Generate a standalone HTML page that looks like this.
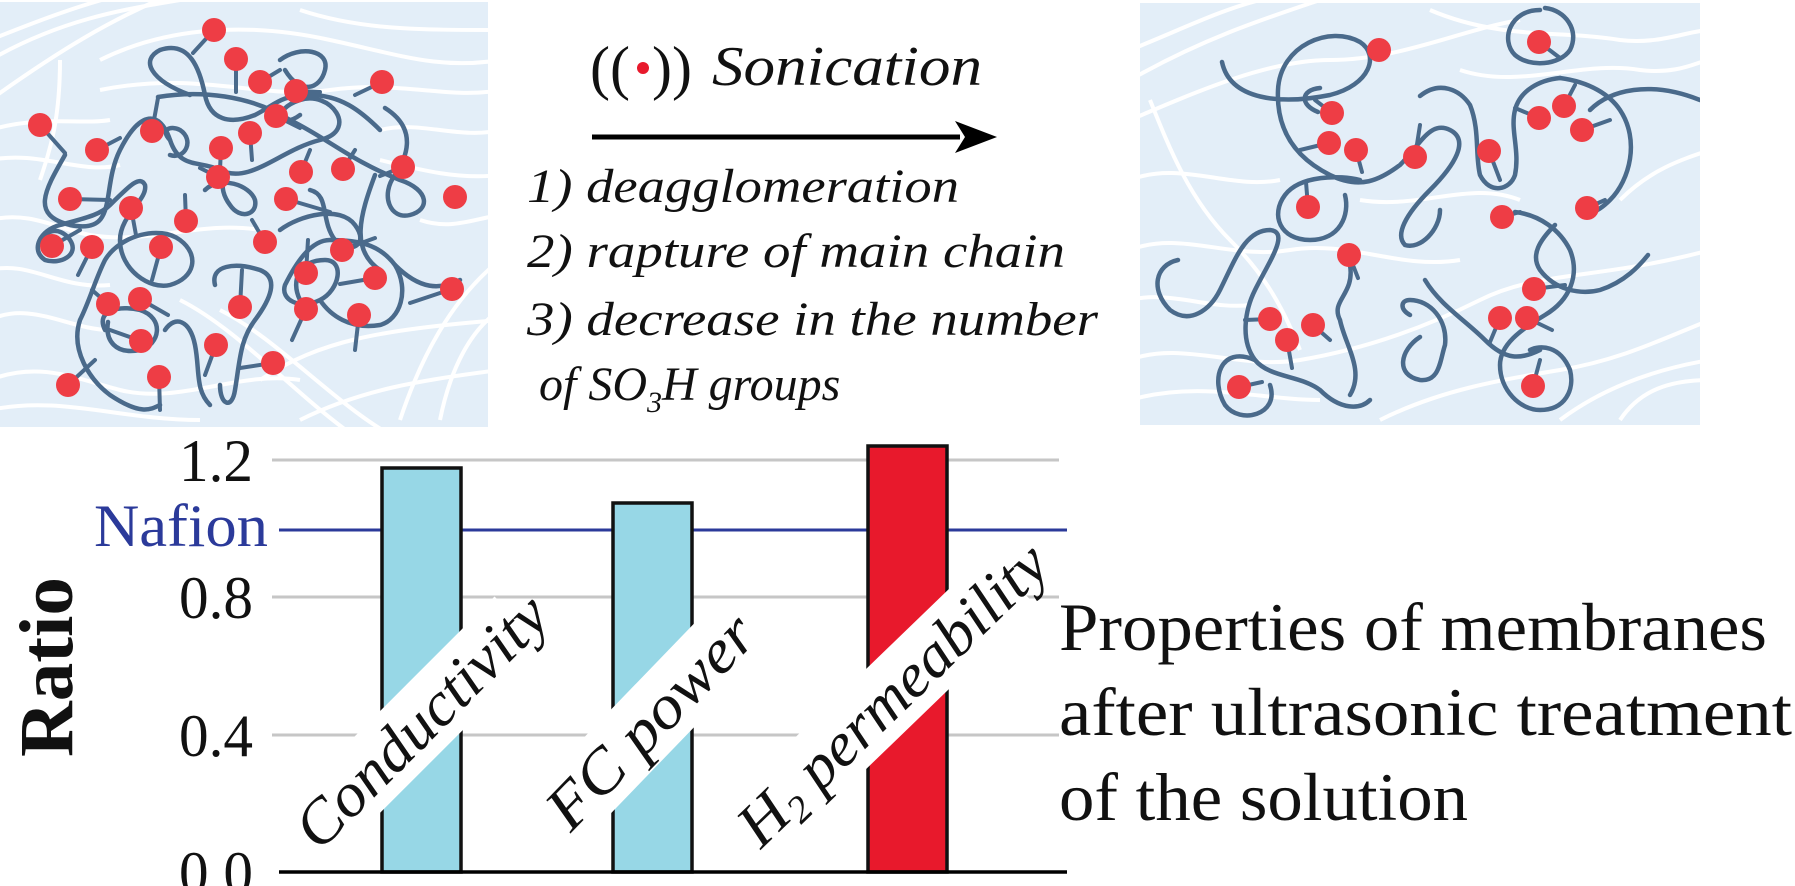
<!DOCTYPE html>
<html><head><meta charset="utf-8"><style>
html,body{margin:0;padding:0;background:#fff;}
svg{display:block;}
</style></head><body>
<svg width="1795" height="886" viewBox="0 0 1795 886" xmlns="http://www.w3.org/2000/svg">
<defs>
<clipPath id="cl"><rect x="0" y="2" width="488" height="425"/></clipPath>
<clipPath id="cr"><rect x="1140" y="3" width="560" height="422"/></clipPath>
</defs>

<!-- LEFT PANEL -->
<rect x="0" y="2" width="488" height="425" fill="#e3eef8"/>
<g clip-path="url(#cl)" fill="none" stroke="#fff" stroke-width="4">
<path d="M-10,60 C60,20 120,10 180,0"/>
<path d="M-10,100 C60,50 110,20 170,-5"/>
<path d="M-10,40 C40,20 80,5 120,-5"/>
<path d="M100,60 C160,30 240,20 330,40 C400,55 440,70 500,60"/>
<path d="M300,10 C360,30 420,30 500,30"/>
<path d="M100,90 C200,70 260,100 330,90 C400,80 450,100 500,90"/>
<path d="M-10,160 C40,150 80,175 120,165"/>
<path d="M-10,220 C30,210 60,230 90,235 C150,245 200,220 260,230"/>
<path d="M-10,270 C30,260 60,290 110,285"/>
<path d="M-10,320 C30,300 70,330 110,330"/>
<path d="M-10,380 C40,360 80,380 120,390 C180,405 240,370 300,380"/>
<path d="M-10,410 C60,395 120,420 200,420"/>
<path d="M260,380 C320,340 380,330 500,320"/>
<path d="M300,420 C360,390 420,380 500,370"/>
<path d="M400,420 C420,360 450,300 500,260"/>
<path d="M440,420 C450,370 470,330 500,310"/>
<path d="M180,300 C240,330 300,400 360,440"/>
<path d="M220,310 C280,340 340,410 400,440"/>
<path d="M380,160 C420,170 460,180 500,175"/>
<path d="M60,60 C60,120 50,150 40,180"/>
<path d="M-10,130 C40,115 80,125 110,120"/>
<path d="M380,130 C420,120 460,140 500,130"/>
<path d="M420,220 C450,230 470,220 500,215"/>
</g>
<g clip-path="url(#cl)" fill="none" stroke="#4a6a8b" stroke-width="4.5" stroke-linecap="round">
<path d="M65,155 C45,190 30,215 70,225 C120,235 100,190 120,150 C140,110 160,110 170,140 C180,170 200,160 220,170 C250,185 280,150 320,140 C360,130 330,90 300,100 C270,110 280,130 300,115"/>
<path d="M190,95 C150,80 140,60 160,50 C190,40 200,70 205,95 C210,120 230,125 255,115 C275,105 280,95 310,95 C340,95 360,110 380,130"/>
<path d="M280,60 C300,45 330,50 325,70 C320,90 300,95 285,70"/>
<path d="M158,97 C200,90 250,95 290,120 C330,140 350,160 400,180 C430,190 430,210 410,215 C390,220 380,195 395,175 C405,160 420,130 385,108"/>
<path d="M170,140 C160,130 170,125 180,130 C195,140 185,160 170,155"/>
<path d="M205,190 C220,175 250,185 255,200 C258,215 240,220 230,205 C215,185 230,175 215,170"/>
<path d="M45,245 C40,230 60,225 70,240 C80,255 60,265 45,260 C30,250 40,230 60,225 C85,218 100,215 110,205 C130,185 140,175 145,185 C148,200 120,215 120,240 C120,270 150,290 170,285 C195,278 200,255 180,240 C160,225 120,235 105,260 C95,280 90,300 80,320 C70,350 90,380 110,395 C140,415 150,410 160,405"/>
<path d="M105,330 C95,310 120,305 140,310 C165,318 160,345 140,350 C115,355 105,340 108,322"/>
<path d="M165,330 C175,315 190,320 195,345 C200,370 195,390 210,405"/>
<path d="M215,285 C210,265 235,262 260,270 C280,278 270,300 255,320 C240,340 240,360 235,390 C232,410 220,405 220,385"/>
<path d="M300,300 C290,280 300,260 325,260 C345,260 340,290 320,300 C300,310 280,300 285,285 C295,265 310,240 330,240 C360,240 380,245 395,265 C410,290 400,320 380,325 C350,330 330,315 320,300"/>
<path d="M280,230 C300,215 340,205 355,225 C370,245 350,255 335,240 C320,220 330,195 310,190"/>
<path d="M395,265 C420,290 440,290 460,280"/>
<path d="M375,175 C360,215 350,250 380,270"/>
</g>
<g stroke="#4a6a8b" stroke-width="4" stroke-linecap="round">
<line x1="214" y1="30" x2="193" y2="53"/><line x1="236" y1="59" x2="236" y2="92"/>
<line x1="260" y1="82" x2="280" y2="70"/><line x1="296" y1="91" x2="320" y2="92"/>
<line x1="382" y1="82" x2="355" y2="95"/><line x1="40" y1="125" x2="65" y2="153"/>
<line x1="152" y1="131" x2="158" y2="98"/><line x1="276" y1="116" x2="300" y2="128"/>
<line x1="250" y1="133" x2="252" y2="160"/><line x1="97" y1="150" x2="120" y2="138"/>
<line x1="221" y1="148" x2="220" y2="170"/><line x1="218" y1="177" x2="200" y2="168"/>
<line x1="301" y1="172" x2="310" y2="150"/><line x1="343" y1="169" x2="355" y2="150"/>
<line x1="403" y1="167" x2="380" y2="176"/><line x1="70" y1="199" x2="110" y2="200"/>
<line x1="131" y1="208" x2="136" y2="235"/><line x1="186" y1="221" x2="185" y2="195"/>
<line x1="286" y1="199" x2="330" y2="212"/><line x1="52" y1="246" x2="80" y2="230"/>
<line x1="92" y1="247" x2="78" y2="275"/><line x1="161" y1="247" x2="152" y2="280"/>
<line x1="265" y1="242" x2="252" y2="220"/><line x1="342" y1="250" x2="375" y2="238"/>
<line x1="306" y1="273" x2="308" y2="240"/><line x1="375" y1="278" x2="340" y2="284"/>
<line x1="240" y1="307" x2="242" y2="270"/><line x1="306" y1="309" x2="292" y2="340"/>
<line x1="359" y1="315" x2="355" y2="350"/><line x1="108" y1="304" x2="92" y2="290"/>
<line x1="140" y1="299" x2="168" y2="315"/><line x1="141" y1="341" x2="110" y2="330"/>
<line x1="216" y1="345" x2="205" y2="375"/><line x1="273" y1="363" x2="240" y2="368"/>
<line x1="452" y1="289" x2="410" y2="303"/><line x1="68" y1="385" x2="95" y2="360"/>
<line x1="159" y1="377" x2="160" y2="410"/>
</g>
<g fill="#ee3d45">
<circle cx="214" cy="30" r="12"/><circle cx="236" cy="59" r="12"/><circle cx="260" cy="82" r="12"/>
<circle cx="296" cy="91" r="12"/><circle cx="382" cy="82" r="12"/><circle cx="40" cy="125" r="12"/>
<circle cx="152" cy="131" r="12"/><circle cx="276" cy="116" r="12"/><circle cx="250" cy="133" r="12"/>
<circle cx="97" cy="150" r="12"/><circle cx="221" cy="148" r="12"/><circle cx="218" cy="177" r="12"/>
<circle cx="301" cy="172" r="12"/><circle cx="343" cy="169" r="12"/><circle cx="403" cy="167" r="12"/>
<circle cx="70" cy="199" r="12"/><circle cx="131" cy="208" r="12"/><circle cx="186" cy="221" r="12"/>
<circle cx="286" cy="199" r="12"/><circle cx="52" cy="246" r="12"/><circle cx="92" cy="247" r="12"/>
<circle cx="161" cy="247" r="12"/><circle cx="265" cy="242" r="12"/><circle cx="342" cy="250" r="12"/>
<circle cx="306" cy="273" r="12"/><circle cx="375" cy="278" r="12"/><circle cx="240" cy="307" r="12"/>
<circle cx="306" cy="309" r="12"/><circle cx="359" cy="315" r="12"/><circle cx="108" cy="304" r="12"/>
<circle cx="140" cy="299" r="12"/><circle cx="141" cy="341" r="12"/><circle cx="216" cy="345" r="12"/>
<circle cx="273" cy="363" r="12"/><circle cx="452" cy="289" r="12"/><circle cx="68" cy="385" r="12"/>
<circle cx="159" cy="377" r="12"/><circle cx="455" cy="197" r="12"/>
</g>

<!-- RIGHT PANEL -->
<rect x="1140" y="3" width="560" height="422" fill="#e3eef8"/>
<g clip-path="url(#cr)" fill="none" stroke="#fff" stroke-width="4">
<path d="M1130,80 C1200,40 1260,20 1320,0"/>
<path d="M1130,50 C1180,30 1220,10 1260,0"/>
<path d="M1130,120 C1200,90 1270,60 1330,60 C1400,60 1460,30 1520,20"/>
<path d="M1430,10 C1500,40 1560,30 1620,40 C1660,45 1690,30 1710,30"/>
<path d="M1460,70 C1520,90 1580,60 1640,70 C1680,75 1700,60 1710,60"/>
<path d="M1130,180 C1180,160 1230,190 1280,180"/>
<path d="M1150,100 C1170,150 1190,200 1230,240 C1260,270 1280,300 1300,350"/>
<path d="M1130,250 C1180,230 1230,260 1290,250 C1350,240 1400,270 1460,260"/>
<path d="M1130,300 C1170,290 1210,310 1250,305"/>
<path d="M1130,360 C1180,340 1240,370 1300,360 C1360,350 1420,330 1480,300 C1540,270 1600,280 1710,250"/>
<path d="M1130,400 C1200,380 1260,400 1320,400"/>
<path d="M1380,420 C1440,390 1500,380 1560,370 C1620,360 1660,340 1710,320"/>
<path d="M1560,420 C1600,390 1650,370 1710,360"/>
<path d="M1620,420 C1640,390 1670,380 1710,380"/>
<path d="M1620,200 C1650,170 1680,160 1710,150"/>
<path d="M1360,200 C1420,210 1470,180 1520,200"/>
</g>
<g clip-path="url(#cr)" fill="none" stroke="#4a6a8b" stroke-width="4.5" stroke-linecap="round">
<path d="M1222,62 C1230,100 1280,105 1330,95 C1370,85 1380,55 1360,42 C1330,25 1280,45 1278,90 C1276,135 1300,160 1330,175 C1360,190 1380,180 1400,165 C1420,145 1430,120 1450,130 C1470,140 1455,165 1430,190 C1405,215 1395,235 1405,245 C1420,250 1440,230 1440,210"/>
<path d="M1318,112 C1300,105 1300,90 1320,88"/>
<path d="M1360,180 C1340,175 1300,175 1285,195 C1270,215 1280,240 1310,240 C1340,240 1350,215 1345,195"/>
<path d="M1178,260 C1155,265 1150,290 1170,310 C1190,325 1210,310 1220,290 C1235,260 1245,230 1270,230 C1290,232 1270,260 1255,290 C1245,310 1240,340 1255,360 C1270,378 1300,375 1320,390 C1340,410 1360,410 1370,400"/>
<path d="M1255,360 C1220,345 1210,380 1225,405 C1240,425 1280,415 1270,385"/>
<path d="M1350,265 C1355,295 1330,300 1340,320 C1345,345 1365,370 1350,395"/>
<path d="M1420,337 C1400,350 1395,375 1420,380 C1440,382 1440,360 1445,345 C1448,320 1430,300 1410,300 C1400,300 1400,310 1410,315"/>
<path d="M1420,96 C1440,80 1460,90 1470,105 C1480,130 1475,155 1480,175 C1490,195 1510,190 1515,175 C1520,150 1510,130 1515,110 C1520,90 1540,80 1560,78"/>
<path d="M1540,10 C1510,10 1500,40 1515,55 C1530,68 1560,65 1570,50 C1580,30 1565,10 1545,8"/>
<path d="M1560,78 C1590,82 1610,95 1620,110 C1640,140 1630,180 1610,200 C1595,215 1585,215 1580,210"/>
<path d="M1590,110 C1610,90 1650,80 1700,100"/>
<path d="M1515,212 C1540,215 1560,230 1570,250 C1580,275 1570,300 1545,315 C1520,330 1500,345 1500,365 C1500,390 1520,410 1540,410 C1565,410 1575,390 1570,370 C1560,345 1540,345 1530,350"/>
<path d="M1555,225 C1540,240 1530,255 1540,270 C1555,290 1580,295 1600,290 C1625,282 1640,265 1648,255"/>
<path d="M1425,280 C1440,305 1465,320 1485,340 C1505,360 1520,360 1540,350"/>
</g>
<g stroke="#4a6a8b" stroke-width="4" stroke-linecap="round">
<line x1="1539" y1="42" x2="1560" y2="58"/><line x1="1332" y1="113" x2="1315" y2="100"/>
<line x1="1329" y1="143" x2="1300" y2="150"/><line x1="1356" y1="150" x2="1362" y2="172"/>
<line x1="1415" y1="157" x2="1420" y2="125"/><line x1="1539" y1="118" x2="1515" y2="108"/>
<line x1="1564" y1="106" x2="1575" y2="85"/><line x1="1582" y1="130" x2="1610" y2="120"/>
<line x1="1489" y1="151" x2="1500" y2="180"/><line x1="1308" y1="207" x2="1306" y2="182"/>
<line x1="1502" y1="217" x2="1520" y2="212"/><line x1="1587" y1="208" x2="1605" y2="200"/>
<line x1="1349" y1="255" x2="1358" y2="278"/><line x1="1534" y1="289" x2="1565" y2="285"/>
<line x1="1270" y1="319" x2="1245" y2="320"/><line x1="1313" y1="325" x2="1330" y2="340"/>
<line x1="1287" y1="340" x2="1292" y2="368"/><line x1="1500" y1="318" x2="1490" y2="342"/>
<line x1="1527" y1="318" x2="1552" y2="330"/><line x1="1239" y1="387" x2="1262" y2="382"/>
<line x1="1533" y1="386" x2="1540" y2="360"/>
</g>
<g fill="#ee3d45">
<circle cx="1379" cy="50" r="12"/><circle cx="1539" cy="42" r="12"/><circle cx="1332" cy="113" r="12"/>
<circle cx="1329" cy="143" r="12"/><circle cx="1356" cy="150" r="12"/><circle cx="1415" cy="157" r="12"/>
<circle cx="1539" cy="118" r="12"/><circle cx="1564" cy="106" r="12"/><circle cx="1582" cy="130" r="12"/>
<circle cx="1489" cy="151" r="12"/><circle cx="1308" cy="207" r="12"/><circle cx="1502" cy="217" r="12"/>
<circle cx="1587" cy="208" r="12"/><circle cx="1349" cy="255" r="12"/><circle cx="1534" cy="289" r="12"/>
<circle cx="1270" cy="319" r="12"/><circle cx="1313" cy="325" r="12"/><circle cx="1287" cy="340" r="12"/>
<circle cx="1500" cy="318" r="12"/><circle cx="1527" cy="318" r="12"/><circle cx="1239" cy="387" r="12"/>
<circle cx="1533" cy="386" r="12"/>
</g>

<!-- MIDDLE TEXT -->
<g font-family="'Liberation Serif', serif" fill="#111">
<text x="590" y="88" font-size="60">((</text>
<text x="652" y="88" font-size="60">))</text>
<circle cx="643" cy="68" r="6" fill="#e8192c"/>
<text x="712" y="85" font-size="56" font-style="italic" textLength="270" lengthAdjust="spacingAndGlyphs">Sonication</text>
<line x1="592" y1="137" x2="960" y2="137" stroke="#000" stroke-width="5"/>
<polygon points="955,121 997,137 955,153 965,137" fill="#000"/>
<text x="527" y="202" font-size="48" font-style="italic" textLength="432" lengthAdjust="spacingAndGlyphs">1) deagglomeration</text>
<text x="527" y="267" font-size="48" font-style="italic" textLength="538" lengthAdjust="spacingAndGlyphs">2) rapture of main chain</text>
<text x="527" y="335" font-size="48" font-style="italic" textLength="571" lengthAdjust="spacingAndGlyphs">3) decrease in the number</text>
<text x="539" y="400" font-size="48" font-style="italic">of SO<tspan font-size="30" dy="12">3</tspan><tspan dy="-12">H groups</tspan></text>
</g>

<!-- CHART -->
<g>
<line x1="272" y1="460" x2="1059" y2="460" stroke="#c6c6c6" stroke-width="3"/>
<line x1="272" y1="597" x2="1059" y2="597" stroke="#c6c6c6" stroke-width="3"/>
<line x1="272" y1="735" x2="1059" y2="735" stroke="#c6c6c6" stroke-width="3"/>
<line x1="279" y1="530" x2="1067" y2="530" stroke="#2b3a9a" stroke-width="3"/>
<rect x="382" y="468" width="79" height="404" fill="#97d7e6" stroke="#111" stroke-width="3.5"/>
<rect x="613" y="503" width="79" height="369" fill="#97d7e6" stroke="#111" stroke-width="3.5"/>
<rect x="868" y="446" width="79" height="426" fill="#e8192c" stroke="#111" stroke-width="3.5"/>
</g>

<g font-family="'Liberation Serif', serif" font-style="italic" font-size="62" fill="#111" text-anchor="middle">
<g transform="translate(421,721) rotate(-45)">
<rect x="-140" y="-36" width="280" height="72" fill="#fff"/>
<text x="0" y="21" textLength="330" lengthAdjust="spacingAndGlyphs">Conductivity</text>
</g>
<g transform="translate(650,721) rotate(-46)">
<rect x="-115" y="-36" width="230" height="72" fill="#fff"/>
<text x="0" y="21" textLength="272" lengthAdjust="spacingAndGlyphs">FC power</text>
</g>
<g transform="translate(892,694) rotate(-44)">
<rect x="-165" y="-36" width="330" height="72" fill="#fff"/>
<text x="0" y="21" textLength="405" lengthAdjust="spacingAndGlyphs">H<tspan font-size="38" dy="10">2</tspan><tspan dy="-10"> permeability</tspan></text>
</g>
</g>

<line x1="279" y1="872" x2="1067" y2="872" stroke="#000" stroke-width="3.5"/>
<g font-family="'Liberation Serif', serif" fill="#111" font-size="60" text-anchor="end">
<text x="253" y="481" textLength="74" lengthAdjust="spacingAndGlyphs">1.2</text>
<text x="253" y="618" textLength="74" lengthAdjust="spacingAndGlyphs">0.8</text>
<text x="253" y="756" textLength="74" lengthAdjust="spacingAndGlyphs">0.4</text>
<text x="253" y="893" textLength="74" lengthAdjust="spacingAndGlyphs">0.0</text>
<text x="268" y="546" fill="#2b3a9a" textLength="174" lengthAdjust="spacingAndGlyphs">Nafion</text>
</g>
<text transform="translate(72,667) rotate(-90)" text-anchor="middle" font-family="'Liberation Serif', serif" font-weight="bold" font-size="76" fill="#111" textLength="180" lengthAdjust="spacingAndGlyphs">Ratio</text>

<!-- RIGHT TEXT -->
<g font-family="'Liberation Serif', serif" font-size="68" fill="#111">
<text x="1059" y="650" textLength="708" lengthAdjust="spacingAndGlyphs">Properties of membranes</text>
<text x="1059" y="735" textLength="733" lengthAdjust="spacingAndGlyphs">after ultrasonic treatment</text>
<text x="1059" y="820" textLength="409" lengthAdjust="spacingAndGlyphs">of the solution</text>
</g>
</svg>
</body></html>
